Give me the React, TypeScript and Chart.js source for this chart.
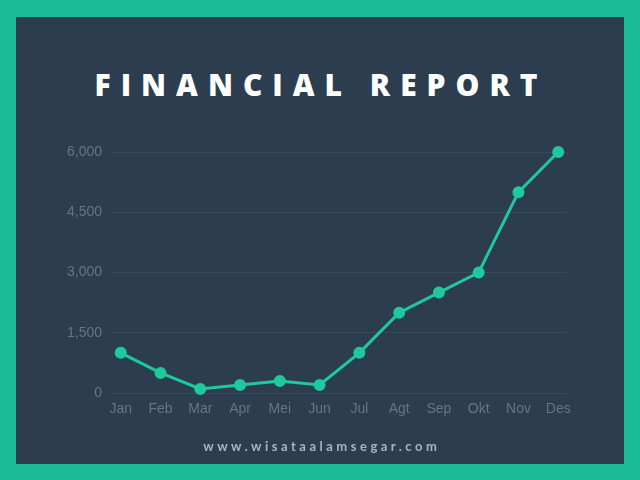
import React, { useEffect, useRef } from "react";
import { Chart, registerables } from "chart.js";

Chart.register(...registerables);

const months = ["Jan", "Feb", "Mar", "Apr", "Mei", "Jun", "Jul", "Agt", "Sep", "Okt", "Nov", "Des"];
const values = [1000, 500, 100, 200, 300, 200, 1000, 2000, 2500, 3000, 5000, 6000];
const yTicks = [0, 1500, 3000, 4500, 6000];
const titleText = "FINANCIAL REPORT";
const footerText = "www.wisataalamsegar.com";

const LINE = "#1ec99e";
const BG = "#2c3d50";
const TEAL = "#1bbb9a";
const TICK = "#69747f";

export default function App() {
  const ref = useRef<HTMLCanvasElement | null>(null);

  useEffect(() => {
    if (!ref.current) return;
    const chart = new Chart(ref.current, {
      type: "line",
      data: {
        datasets: [
          {
            data: values.map((v, i) => ({ x: i, y: v })),
            borderColor: LINE,
            backgroundColor: LINE,
            borderWidth: 3,
            pointRadius: 4.5,
            pointBackgroundColor: LINE,
            pointBorderColor: LINE,
            tension: 0,
            fill: false,
            clip: false,
          },
        ],
      },
      options: {
        animation: false,
        responsive: false,
        maintainAspectRatio: false,
        layout: { padding: { top: 152, right: 73, bottom: 57, left: 0 } },
        plugins: { legend: { display: false }, tooltip: { enabled: false } },
        scales: {
          x: {
            type: "linear",
            min: -0.22,
            max: months.length - 1 + 0.22,
            afterBuildTicks: (scale: any) => {
              scale.ticks = months.map((_, i) => ({ value: i }));
            },
            afterFit: (scale: any) => {
              scale.height = 30;
            },
            grid: { display: false, drawTicks: false },
            border: { display: false },
            ticks: {
              color: TICK,
              font: { family: "'Liberation Sans', Arial, sans-serif", size: 14 },
              padding: 8,
              maxRotation: 0,
              autoSkip: false,
              callback: (v: any) => months[v as number] ?? "",
            },
          },
          y: {
            min: 0,
            max: 6000,
            afterBuildTicks: (scale: any) => {
              scale.ticks = yTicks.map((v) => ({ value: v }));
            },
            afterFit: (scale: any) => {
              scale.width = 112;
            },
            grid: { color: "rgba(255,255,255,0.06)", drawTicks: false, lineWidth: 1 },
            border: { display: false },
            ticks: {
              color: TICK,
              font: { family: "'Liberation Sans', Arial, sans-serif", size: 14 },
              padding: 10,
              callback: (v: any) => Number(v).toLocaleString("en-US"),
            },
          },
        },
      },
    });
    return () => chart.destroy();
  }, []);

  return (
    <div
      style={{
        position: "fixed",
        left: 0,
        top: 0,
        width: 640,
        height: 480,
        background: TEAL,
        overflow: "hidden",
      }}
    >
      <div
        style={{
          position: "absolute",
          left: 16,
          top: 17,
          right: 16,
          bottom: 16,
          background: BG,
        }}
      />
      <div
        style={{
          position: "absolute",
          left: 0,
          width: 640,
          top: 66,
          textAlign: "center",
          color: "#ffffff",
          fontFamily: "'Open Sans', sans-serif",
          fontWeight: 800,
          fontSize: 30,
          letterSpacing: 10,
          lineHeight: "38px",
          paddingLeft: 2,
          boxSizing: "border-box",
          whiteSpace: "nowrap",
        }}
      >
        {titleText}
      </div>
      <canvas
        ref={ref}
        width={640}
        height={480}
        style={{ position: "absolute", left: 0, top: 0, width: 640, height: 480 }}
      />
      <div
        style={{
          position: "absolute",
          left: 0,
          width: 640,
          top: 437,
          textAlign: "center",
          color: "#aab3bc",
          fontFamily: "Lato, sans-serif",
          fontWeight: 700,
          fontSize: 13,
          letterSpacing: 3.5,
          lineHeight: "18px",
          paddingLeft: 3.5,
          boxSizing: "border-box",
        }}
      >
        {footerText}
      </div>
    </div>
  );
}
